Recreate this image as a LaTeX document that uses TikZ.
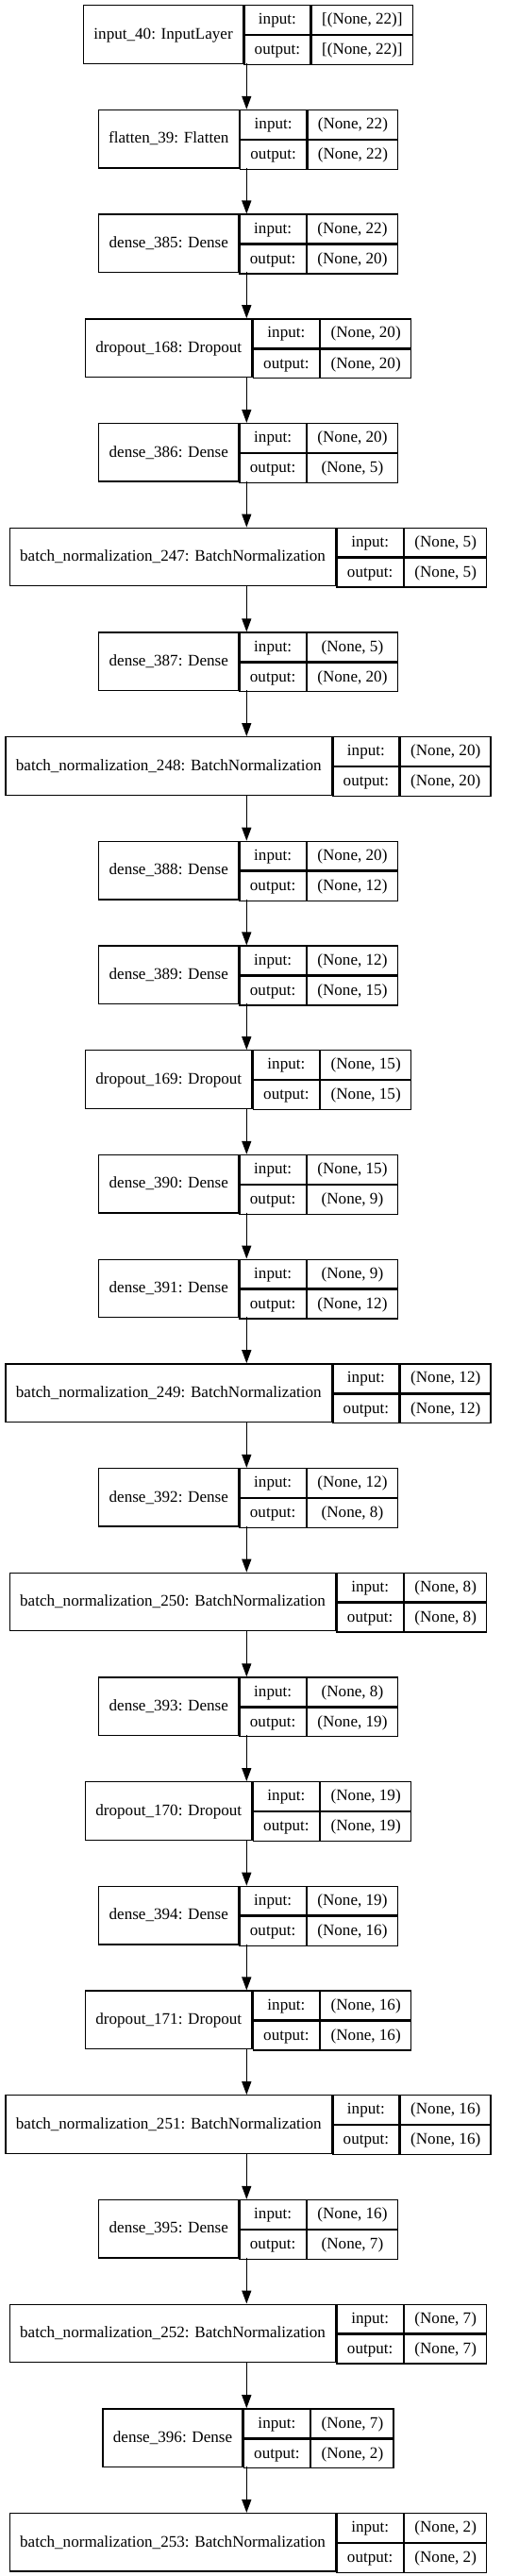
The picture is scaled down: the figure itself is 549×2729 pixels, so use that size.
\documentclass[tikz,border=0pt]{standalone}
\usepackage{fontspec}
\setmainfont{Liberation Serif}
\usepackage{tikz}
\usetikzlibrary{arrows.meta,positioning}

\newcommand\layerfont{\fontsize{17.1}{20}\selectfont}
\newlength\namew
\newlength\shapew
\newlength\shapeb
\newlength\iow

\begin{document}
\begin{tikzpicture}[
    x=1pt, y=1pt,
    font=\layerfont,
    layerbox/.style={rectangle, inner sep=0pt, minimum height=61.5pt},
    cell/.style={rectangle, draw, line width=1.3pt, inner sep=0pt, text height=9.5pt, text depth=0pt, anchor=north west},
    namecell/.style={cell, minimum height=61.5pt},
    halfcell/.style={cell, minimum height=30.75pt},
    edge/.style={line width=1.3pt, -{Triangle[length=14pt, width=10pt]}}
]
    \path[use as bounding box] (0,0) rectangle (549,-2729);
    \pgfinterruptpicture
        \settowidth{\iow}{\layerfont output:}\global\iow=\iow
    \endpgfinterruptpicture
    \global\advance\iow by 21.7pt

    % Layers, top to bottom
    \foreach \nm/\din/\dout [count=\k] in {
        {input\_40: InputLayer}/{[(None, 22)]}/{[(None, 22)]},
        {flatten\_39: Flatten}/{(None, 22)}/{(None, 22)},
        {dense\_385: Dense}/{(None, 22)}/{(None, 20)},
        {dropout\_168: Dropout}/{(None, 20)}/{(None, 20)},
        {dense\_386: Dense}/{(None, 20)}/{(None, 5)},
        {batch\_normalization\_247: BatchNormalization}/{(None, 5)}/{(None, 5)},
        {dense\_387: Dense}/{(None, 5)}/{(None, 20)},
        {batch\_normalization\_248: BatchNormalization}/{(None, 20)}/{(None, 20)},
        {dense\_388: Dense}/{(None, 20)}/{(None, 12)},
        {dense\_389: Dense}/{(None, 12)}/{(None, 15)},
        {dropout\_169: Dropout}/{(None, 15)}/{(None, 15)},
        {dense\_390: Dense}/{(None, 15)}/{(None, 9)},
        {dense\_391: Dense}/{(None, 9)}/{(None, 12)},
        {batch\_normalization\_249: BatchNormalization}/{(None, 12)}/{(None, 12)},
        {dense\_392: Dense}/{(None, 12)}/{(None, 8)},
        {batch\_normalization\_250: BatchNormalization}/{(None, 8)}/{(None, 8)},
        {dense\_393: Dense}/{(None, 8)}/{(None, 19)},
        {dropout\_170: Dropout}/{(None, 19)}/{(None, 19)},
        {dense\_394: Dense}/{(None, 19)}/{(None, 16)},
        {dropout\_171: Dropout}/{(None, 16)}/{(None, 16)},
        {batch\_normalization\_251: BatchNormalization}/{(None, 16)}/{(None, 16)},
        {dense\_395: Dense}/{(None, 16)}/{(None, 7)},
        {batch\_normalization\_252: BatchNormalization}/{(None, 7)}/{(None, 7)},
        {dense\_396: Dense}/{(None, 7)}/{(None, 2)},
        {batch\_normalization\_253: BatchNormalization}/{(None, 2)}/{(None, 2)}%
    }{
        \pgfinterruptpicture
            \settowidth{\namew}{\layerfont\nm}\global\namew=\namew
            \settowidth{\shapew}{\layerfont\din}\global\shapew=\shapew
            \settowidth{\shapeb}{\layerfont\dout}\global\shapeb=\shapeb
        \endpgfinterruptpicture
        \ifdim\shapeb>\shapew \global\shapew=\shapeb\fi
        \global\advance\namew by 21.7pt
        \global\advance\shapew by 21.7pt
        \pgfmathsetmacro{\tw}{\namew+\iow+\shapew}
        \node[layerbox, minimum width=\tw pt] (L\k) at (261.3, {-36.05-(\k-1)*110.7}) {};
        \node[namecell, minimum width=\namew] (L\k-name) at (L\k.north west) {\nm};
        \node[halfcell, minimum width=\iow] (L\k-in) at (L\k-name.north east) {input:};
        \node[halfcell, minimum width=\iow] (L\k-out) at (L\k-in.south west) {output:};
        \node[halfcell, minimum width=\shapew] (L\k-din) at (L\k-in.north east) {\din};
        \node[halfcell, minimum width=\shapew] (L\k-dout) at (L\k-din.south west) {\dout};
        % arrow from the layer above
        \ifnum\k>1
            \pgfmathtruncatemacro{\j}{\k-1}
            \draw[edge] (L\j.south) -- (L\k.north);
        \fi
    }
\end{tikzpicture}
\end{document}
